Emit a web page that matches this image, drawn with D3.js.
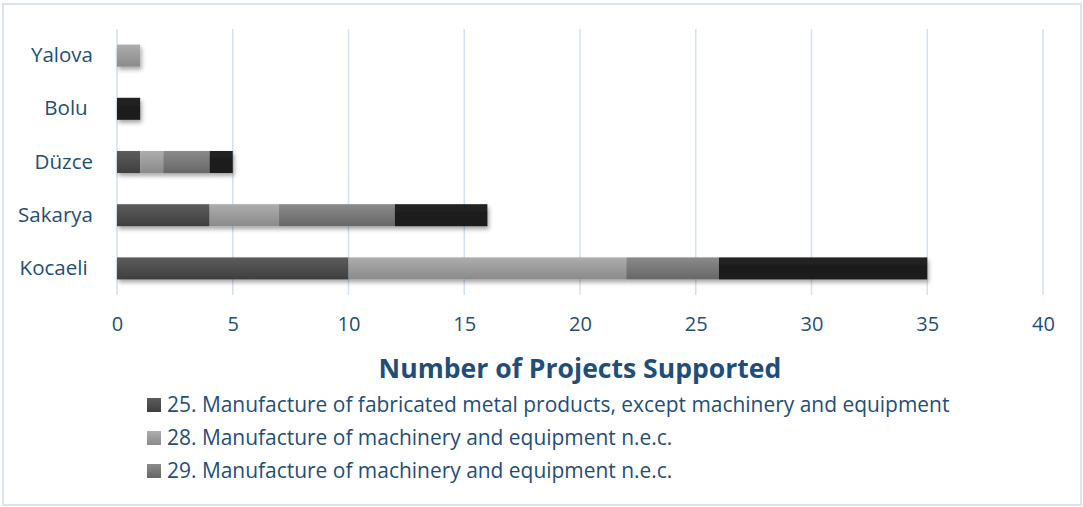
<!DOCTYPE html>
<html>
<head>
<meta charset="utf-8">
<script src="https://cdn.jsdelivr.net/npm/d3@7"></script>
<style>
  html, body { margin: 0; padding: 0; background: #fff; }
  svg { display: block; }
  text { font-family: "Open Sans", Lato, sans-serif; }
</style>
</head>
<body>
<svg id="chart" width="1083" height="507"></svg>
<script>
// Regions (top to bottom as drawn) and sector series
const regions = ["Yalova", "Bolu ", "Düzce", "Sakarya", "Kocaeli "];
const sectorNames = [
  "25. Manufacture of fabricated metal products, except machinery and equipment",
  "28. Manufacture of machinery and equipment n.e.c.",
  "29. Manufacture of machinery and equipment n.e.c.",
  "Other"
];
const sector25 = [0, 0, 1, 4, 10];
const sector28 = [1, 0, 1, 3, 12];
const sector29 = [0, 0, 2, 5, 4];
const sectorOther = [0, 1, 1, 4, 9];
const xTicks = [0, 5, 10, 15, 20, 25, 30, 35, 40];
const axisTitle = "Number of Projects Supported";

const seriesKeys = ["s25", "s28", "s29", "sOther"];
const legendCount = 3;

const rows = regions.map((r, i) => ({
  region: r, s25: sector25[i], s28: sector28[i], s29: sector29[i], sOther: sectorOther[i]
}));

const shades = [
  { top: "#5c5c5c", bottom: "#3f3f3f" },
  { top: "#adadad", bottom: "#8a8a8a" },
  { top: "#8a8a8a", bottom: "#676767" },
  { top: "#222222", bottom: "#1a1a1a" }
];
const textColor = "#1f4e79";

const svg = d3.select("#chart");
const W = 1083, H = 507;

// shrink a text's font so that it spans the given width
function fitWidth(sel, width) {
  sel.each(function () {
    const t = d3.select(this);
    const fs = parseFloat(t.attr("font-size"));
    const w = this.getComputedTextLength();
    t.attr("font-size", fs * width / w);
  });
}

// outer frame
svg.append("rect")
  .attr("x", 3).attr("y", 4).attr("width", W - 5).attr("height", H - 6)
  .attr("fill", "#fff").attr("stroke", "#d9e4f3").attr("stroke-width", 2);

const defs = svg.append("defs");
shades.forEach((s, i) => {
  const g = defs.append("linearGradient").attr("id", "grad" + i)
    .attr("x1", 0).attr("y1", 0).attr("x2", 0).attr("y2", 1);
  g.append("stop").attr("offset", "0%").attr("stop-color", s.top);
  g.append("stop").attr("offset", "100%").attr("stop-color", s.bottom);
});
const shadow = defs.append("filter").attr("id", "shadow")
  .attr("x", "-5%").attr("y", "-30%").attr("width", "115%").attr("height", "190%");
shadow.append("feDropShadow")
  .attr("dx", 1.5).attr("dy", 3).attr("stdDeviation", 2.2)
  .attr("flood-color", "#000").attr("flood-opacity", 0.35);

const x = d3.scaleLinear().domain([0, 40]).range([117, 1043]);
const y = d3.scaleBand().domain(regions).range([29, 295])
  .paddingInner(0.586).paddingOuter(0.293);

// vertical gridlines
svg.append("g").selectAll("line").data(xTicks).join("line")
  .attr("x1", d => x(d)).attr("x2", d => x(d))
  .attr("y1", 29).attr("y2", 295)
  .attr("stroke", "#d3e0f2").attr("stroke-width", 1.5);

// x axis labels
const xAxis = d3.axisBottom(x).tickValues(xTicks).tickSize(0).tickPadding(0);
const xg = svg.append("g").attr("transform", "translate(0,317)").call(xAxis);
xg.select(".domain").remove();
xg.selectAll("text")
  .attr("fill", textColor).attr("font-size", 20)
  .attr("font-family", "'Open Sans', Lato, sans-serif");

// y axis labels
const yAxis = d3.axisLeft(y).tickSize(0).tickPadding(0);
const yg = svg.append("g").attr("transform", "translate(93,0)").call(yAxis);
yg.select(".domain").remove();
yg.selectAll("text")
  .attr("fill", textColor).attr("font-size", 18.5)
  .attr("font-family", "'Open Sans', Lato, sans-serif")
  .style("white-space", "pre");
fitWidth(yg.selectAll("text").filter(d => d === "Sakarya"), 75);
const ySize = yg.selectAll("text").filter(d => d === "Sakarya").attr("font-size");
yg.selectAll("text").attr("font-size", ySize);

// stacked bars
const stack = d3.stack().keys(seriesKeys);
const layers = stack(rows);
const barG = svg.append("g").attr("filter", "url(#shadow)");
layers.forEach((layer, i) => {
  barG.append("g").selectAll("rect")
    .data(layer.filter(d => d[1] > d[0]))
    .join("rect")
    .attr("x", d => x(d[0]))
    .attr("y", d => y(d.data.region))
    .attr("width", d => x(d[1]) - x(d[0]))
    .attr("height", y.bandwidth())
    .attr("fill", `url(#grad${i})`);
});

// axis title
const title = svg.append("text")
  .attr("x", 580).attr("y", 378)
  .attr("text-anchor", "middle")
  .attr("fill", textColor).attr("font-weight", "bold").attr("font-size", 26)
  .text(axisTitle);
fitWidth(title, 403);

// legend
const legend = svg.append("g");
const legendTexts = [];
sectorNames.slice(0, legendCount).forEach((name, i) => {
  const ly = 405 + i * 33;
  legend.append("rect")
    .attr("x", 147).attr("y", ly - 7).attr("width", 14).attr("height", 14)
    .attr("fill", `url(#grad${i})`);
  legendTexts.push(legend.append("text")
    .attr("x", 167).attr("y", ly).attr("dy", "0.35em")
    .attr("fill", textColor).attr("font-size", 19)
    .text(name));
});
fitWidth(legendTexts[0], 783);
const lSize = legendTexts[0].attr("font-size");
legendTexts.forEach(t => t.attr("font-size", lSize));
</script>
</body>
</html>
